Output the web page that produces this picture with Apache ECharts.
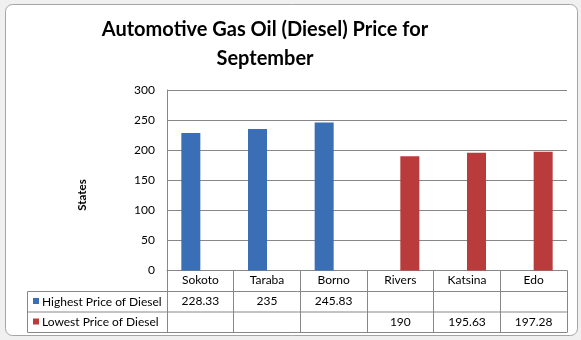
<!DOCTYPE html>
<html>
<head>
<meta charset="utf-8">
<script src="https://cdn.jsdelivr.net/npm/echarts@6/dist/echarts.min.js"></script>
<style>
  html, body { margin: 0; padding: 0; background: #f0f0f0; }
  #chart { width: 581px; height: 340px; }
</style>
</head>
<body>
<div id="chart"></div>
<script>
// States along the x axis
const states = ['Sokoto', 'Taraba', 'Borno', 'Rivers', 'Katsina', 'Edo'];
// Highest price of diesel (N per litre), only for the first three states
const highestPrice = [228.33, 235, 245.83, null, null, null];
// Lowest price of diesel (N per litre), only for the last three states
const lowestPrice = [null, null, null, 190, 195.63, 197.28];
// Value axis ticks
const yMin = 0, yMax = 300, yStep = 50;

const seriesNames = ['Highest Price of Diesel', 'Lowest Price of Diesel'];
const colors = ['#3A6FB5', '#B93B3B'];
const FONT = 'Lato';
const gridColor = '#878787';
const TXT = 12;

const chart = echarts.init(document.getElementById('chart'), null, { renderer: 'canvas' });

const cellText = v => (v === null ? '' : String(v));

// Table rows under the plot are extra category axes that carry the values
const rowAxis = (values, offset) => ({
  type: 'category',
  data: values.map(cellText),
  position: 'bottom',
  offset: offset,
  gridIndex: 0,
  axisLine: { show: false },
  axisTick: { show: false },
  axisLabel: { margin: 4, color: '#000', fontFamily: FONT, fontSize: TXT, interval: 0 },
  splitLine: { show: false }
});

const left = 167, right = 567, axisY = 270.5;
const row1 = 291.5, row2 = 312, row3 = 332.5;

const option = {
  backgroundColor: '#f0f0f0',
  animation: false,
  title: {
    text: 'Automotive Gas Oil (Diesel) Price for\nSeptember',
    left: 260,
    top: 10,
    textAlign: 'center',
    textStyle: { fontFamily: FONT, fontWeight: 'bold', fontSize: 20, color: '#000', lineHeight: 29 }
  },
  grid: { left: left, right: 581 - right, top: 90, bottom: 340 - axisY, containLabel: false },
  xAxis: [
    {
      type: 'category',
      data: states,
      axisLine: { show: true, lineStyle: { color: gridColor, width: 1 } },
      axisTick: { show: true, length: row3 - axisY, interval: 0, lineStyle: { color: gridColor } },
      axisLabel: { margin: 4, color: '#000', fontFamily: FONT, fontSize: TXT, interval: 0 }
    },
    rowAxis(highestPrice, row1 - axisY),
    rowAxis(lowestPrice, row2 - axisY)
  ],
  yAxis: {
    type: 'value',
    min: yMin,
    max: yMax,
    interval: yStep,
    axisLine: { show: true, lineStyle: { color: gridColor } },
    axisTick: { show: false },
    axisLabel: { margin: 12, color: '#000', fontFamily: FONT, fontSize: TXT },
    splitLine: { lineStyle: { color: gridColor, width: 1 } }
  },
  series: [
    {
      name: seriesNames[0], type: 'bar', data: highestPrice,
      barWidth: 19, barGap: '0%', itemStyle: { color: colors[0] }
    },
    {
      name: seriesNames[1], type: 'bar', data: lowestPrice,
      barWidth: 19, barGap: '0%', itemStyle: { color: colors[1] }
    }
  ],
  graphic: [
    // chart frame
    {
      type: 'rect', z: -10,
      shape: { x: 5.5, y: 4.5, width: 572, height: 331, r: 7 },
      style: { fill: '#fff', stroke: '#a5a5a5', lineWidth: 1 }
    },
    // table borders
    { type: 'line', shape: { x1: 27.5, y1: row1, x2: right, y2: row1 }, style: { stroke: gridColor, lineWidth: 1 } },
    { type: 'line', shape: { x1: 27.5, y1: row2, x2: right, y2: row2 }, style: { stroke: gridColor, lineWidth: 1 } },
    { type: 'line', shape: { x1: 27.5, y1: row3, x2: right, y2: row3 }, style: { stroke: gridColor, lineWidth: 1 } },
    { type: 'line', shape: { x1: 27.5, y1: row1, x2: 27.5, y2: row3 }, style: { stroke: gridColor, lineWidth: 1 } },
    // legend keys in the table
    { type: 'rect', shape: { x: 33, y: 298, width: 6, height: 6 }, style: { fill: colors[0] } },
    { type: 'rect', shape: { x: 33, y: 318.5, width: 6, height: 6 }, style: { fill: colors[1] } },
    {
      type: 'text', x: 42, y: (row1 + row2) / 2,
      style: { text: seriesNames[0], fill: '#000', font: TXT + 'px ' + FONT, textVerticalAlign: 'middle', verticalAlign: 'middle' }
    },
    {
      type: 'text', x: 42, y: (row2 + row3) / 2,
      style: { text: seriesNames[1], fill: '#000', font: TXT + 'px ' + FONT, textVerticalAlign: 'middle', verticalAlign: 'middle' }
    },
    // value axis title
    {
      type: 'text', x: 82, y: 195, rotation: Math.PI / 2,
      style: { text: 'States', fill: '#000', font: 'bold 11.5px ' + FONT, align: 'center', verticalAlign: 'middle', textAlign: 'center', textVerticalAlign: 'middle' }
    }
  ]
};

chart.setOption(option);
</script>
</body>
</html>
